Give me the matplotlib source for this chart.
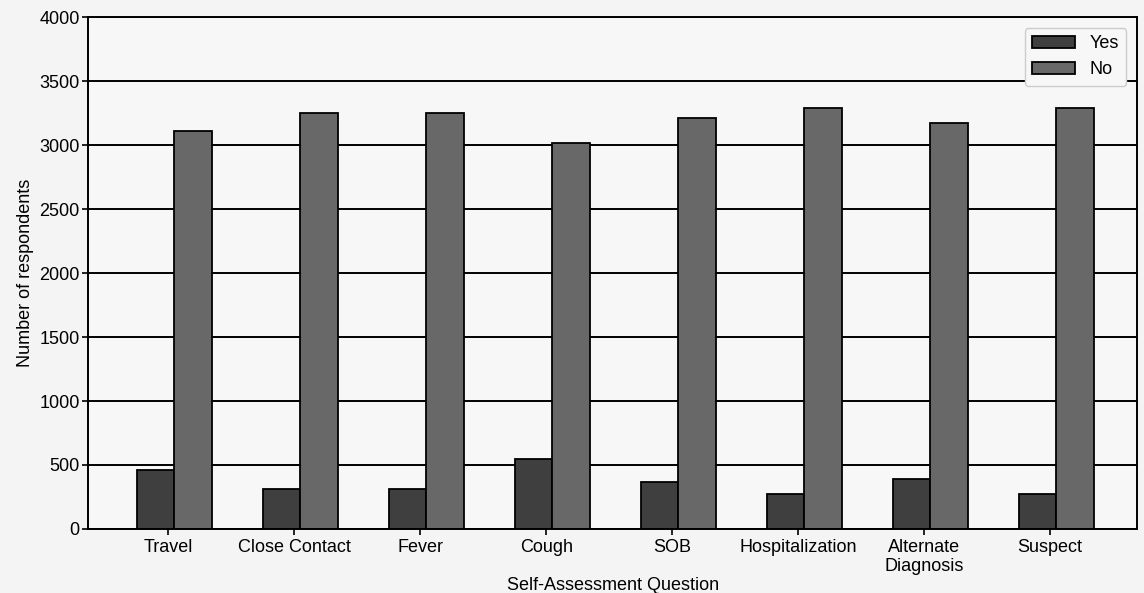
import matplotlib.pyplot as plt
import numpy as np

plt.rcParams['font.family'] = ['Liberation Sans', 'DejaVu Sans']

# Responses per self-assessment question
questions = ['Travel', 'Close Contact', 'Fever', 'Cough', 'SOB',
             'Hospitalization', 'Alternate\nDiagnosis', 'Suspect']
yes_counts = [460, 315, 315, 550, 365, 270, 390, 270]
no_counts = [3110, 3250, 3250, 3015, 3210, 3290, 3170, 3290]

x = np.arange(len(questions))
w = 0.3

fig = plt.figure(figsize=(11.44, 5.93), dpi=100, facecolor='#f4f4f4')
ax = fig.add_axes([0.077, 0.108, 0.917, 0.863], facecolor='#f7f7f7')
ax.set_axisbelow(True)
ax.yaxis.grid(True, color='black', linewidth=1.4)

ax.bar(x - 0.1, yes_counts, w, color='#3f3f3f', edgecolor='black', linewidth=1.3, label='Yes')
ax.bar(x + 0.2, no_counts, w, color='#686868', edgecolor='black', linewidth=1.3, label='No')

ax.set_xlim(-0.635, 7.69)
ax.set_ylim(0, 4000)
ax.set_yticks(range(0, 4001, 500))
ax.set_xticks(x)
ax.set_xticklabels(questions, fontsize=13)
ax.tick_params(axis='y', labelsize=13, pad=2)
ax.tick_params(axis='x', pad=3)
ax.tick_params(direction='out', length=4, width=1.2, color='black')
for s in ax.spines.values():
    s.set_color('black')
    s.set_linewidth(1.4)

ax.set_xlabel('Self-Assessment Question', fontsize=13, labelpad=1)
ax.set_ylabel('Number of respondents', fontsize=13, labelpad=4)
ax.legend(loc='upper right', fontsize=13, handlelength=2.4, framealpha=1,
          facecolor='#f7f7f7', edgecolor='#cccccc', borderaxespad=0.6)

fig.savefig('out.png', dpi=100, facecolor=fig.get_facecolor())
